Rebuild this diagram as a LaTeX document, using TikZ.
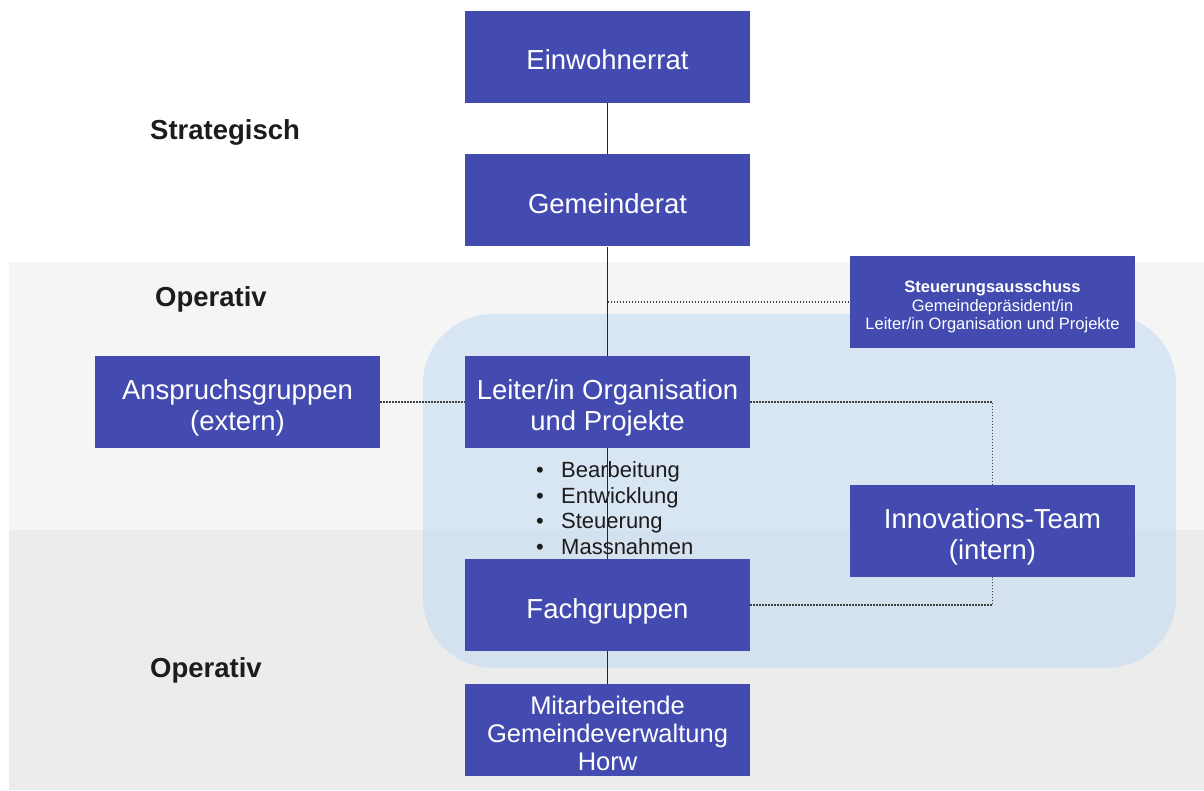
\documentclass[tikz,border=0pt]{standalone}
\usepackage{fontspec}
\setmainfont{Liberation Sans}
\usepackage{tikz}

\definecolor{boxblue}{HTML}{434BB1}
\definecolor{bandlight}{HTML}{F5F5F5}
\definecolor{banddark}{HTML}{ECECEC}
\definecolor{zoneblue}{HTML}{BDD7F0}
\definecolor{inktext}{HTML}{1C1C1C}

% struts to set the text a little lower in the boxes
\newcommand{\orgtop}{\rule{0pt}{32pt}}
\newcommand{\orgbot}{\rule[-6pt]{0pt}{6pt}}
\newcommand{\smalltop}{\rule{0pt}{22pt}}
\newcommand{\smallbot}{\rule[-3.5pt]{0pt}{3.5pt}}

\begin{document}
\begin{tikzpicture}[x=1pt,y=-1pt,
	orgbox/.style={fill=boxblue, text=white, minimum width=285pt, minimum height=92pt,
		inner sep=0pt, align=center, font=\fontsize{27.5}{31}\selectfont},
	levellabel/.style={anchor=west, inner sep=0pt, text=inktext,
		font=\fontsize{27.5}{31}\selectfont\bfseries},
	link/.style={draw=black!85, line width=1.2pt},
	dotlink/.style={draw=black!75, line width=1.3pt, dash pattern=on 1.4pt off 1.6pt}]

	% canvas
	\useasboundingbox (0,0) rectangle (1204,791);

	% bands for the levels
	\fill[bandlight] (9,262) rectangle (1204,530);
	\fill[banddark] (9,530) rectangle (1204,790);

	% project zone
	\fill[zoneblue, fill opacity=0.5, rounded corners=70pt] (423,314) rectangle (1176,668);

	% level labels
	\node[levellabel] (strat) at (150,132) {Strategisch};
	\node[levellabel] (oper1) at (155,299) {Operativ};
	\node[levellabel] (oper2) at (150,670) {Operativ};

	% boxes
	\node[orgbox] (einw) at (607.5,57) {\orgtop Einwohnerrat\orgbot};
	\node[orgbox] (gemr) at (607.5,200.5) {\orgtop Gemeinderat\orgbot};
	\node[orgbox] (leiter) at (607.5,402) {\orgtop Leiter/in Organisation\\und Projekte\orgbot};
	\node[orgbox] (fach) at (607.5,605) {\orgtop Fachgruppen\orgbot};
	\node[orgbox, font=\fontsize{25.5}{28}\selectfont] (mitarb) at (607.5,730)
		{\rule{0pt}{30pt}Mitarbeitende\\Gemeindeverwaltung\\Horw\orgbot};
	\node[orgbox] (ansp) at (237.5,402) {\orgtop Anspruchsgruppen\\(extern)\orgbot};
	\node[orgbox] (innov) at (992.5,531) {\orgtop Innovations-Team\\(intern)\orgbot};
	\node[orgbox, font=\fontsize{16.5}{18.5}\selectfont] (steuer) at (992.5,302)
		{\smalltop\textbf{Steuerungsausschuss}\\Gemeindepräsident/in\\Leiter/in Organisation und Projekte\smallbot};

	% tasks
	\node[anchor=west, inner sep=0pt, align=left, text=inktext,
		font=\fontsize{22}{25.7}\selectfont] (tasks) at (536,508)
		{\makebox[25pt][l]{\textbullet}Bearbeitung\\
		 \makebox[25pt][l]{\textbullet}Entwicklung\\
		 \makebox[25pt][l]{\textbullet}Steuerung\\
		 \makebox[25pt][l]{\textbullet}Massnahmen};

	% hierarchy line
	\draw[link] (einw) -- (gemr);
	\draw[link] (gemr) -- (leiter);
	\draw[link] (leiter) -- (fach);
	\draw[link] (fach) -- (mitarb);

	% dotted relations
	\coordinate (tap) at (607.5,302);
	\draw[dotlink] (tap) -- (steuer.west);
	\draw[dotlink] (ansp.east) -- (leiter.west);
	\draw[dotlink] (leiter.east) -| (innov.north);
	\draw[dotlink] (fach.east) -| (innov.south);

\end{tikzpicture}
\end{document}
